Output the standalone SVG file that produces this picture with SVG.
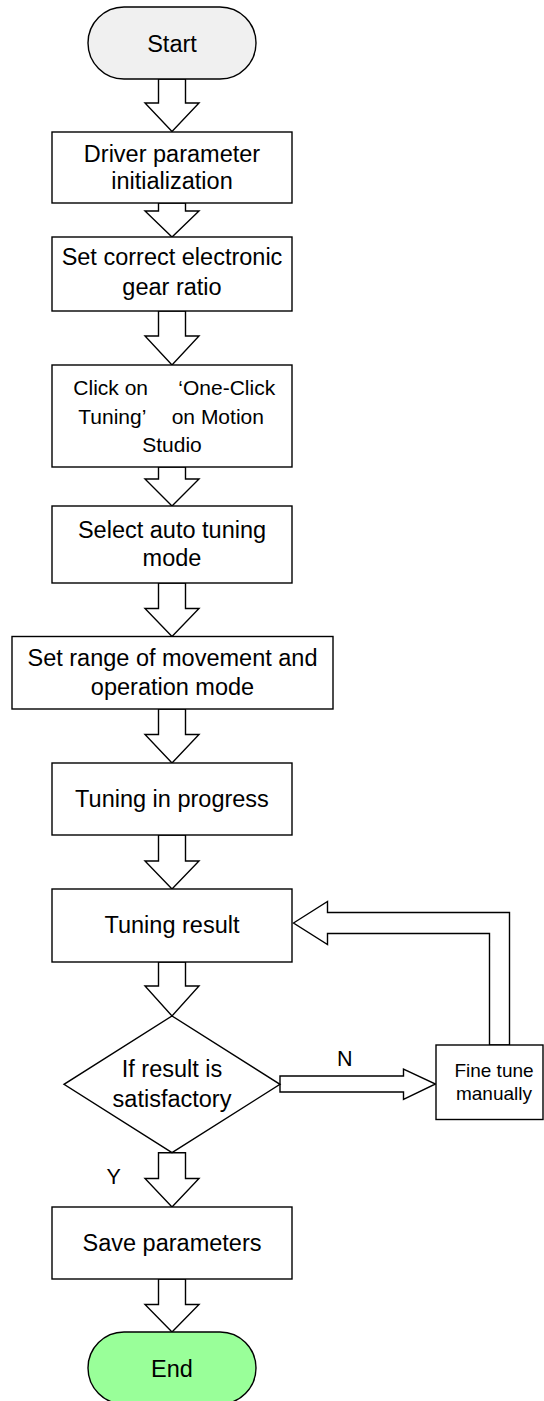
<svg xmlns="http://www.w3.org/2000/svg" width="544" height="1401" viewBox="0 0 544 1401">
<style>
.box{fill:#fff;stroke:#000;stroke-width:1.4}
.arr{fill:#fff;stroke:#000;stroke-width:1.4;stroke-linejoin:miter}
text{font-family:"Liberation Sans",Arial,sans-serif;font-size:23.5px;fill:#000}
.c{text-anchor:middle}
.sm{font-size:21px}
.xs{font-size:19px}
.lbl{font-size:21.5px}
</style>
<rect width="544" height="1401" fill="#fff"/>
<g id="connectors">
<polygon class="arr" points="158.5,79 185.5,79 185.5,103 199,103 172,131.5 145,103 158.5,103"/>
<polygon class="arr" points="158.5,203 185.5,203 185.5,211 199,211 172,237 145,211 158.5,211"/>
<polygon class="arr" points="158.5,311 185.5,311 185.5,336 199,336 172,365 145,336 158.5,336"/>
<polygon class="arr" points="158.5,467 185.5,467 185.5,479 199,479 172,506 145,479 158.5,479"/>
<polygon class="arr" points="158.5,583 185.5,583 185.5,608.5 199,608.5 172,636.5 145,608.5 158.5,608.5"/>
<polygon class="arr" points="158.5,709 185.5,709 185.5,734.5 199,734.5 172,763 145,734.5 158.5,734.5"/>
<polygon class="arr" points="158.5,835 185.5,835 185.5,861 199,861 172,889 145,861 158.5,861"/>
<polygon class="arr" points="158.5,962 185.5,962 185.5,986 199,986 172,1016 145,986 158.5,986"/>
<polygon class="arr" points="158.5,1152.7 185.5,1152.7 185.5,1178.5 199,1178.5 172,1207 145,1178.5 158.5,1178.5"/>
<polygon class="arr" points="158.5,1279 185.5,1279 185.5,1304.5 199,1304.5 172,1332 145,1304.5 158.5,1304.5"/>
<polygon class="arr" points="280,1076 403.5,1076 403.5,1069 435.5,1084 403.5,1099.5 403.5,1092 280,1092"/>
<polygon class="arr" points="293.5,923 327.5,901.5 327.5,912.5 509.5,912.5 509.5,1045 489.5,1045 489.5,933.5 327.5,933.5 327.5,944.5"/>
<text class="lbl" x="337" y="1066">N</text>
<text class="lbl" x="106.5" y="1184">Y</text>
</g>
<g id="start">
<rect x="88" y="7" width="168" height="72" rx="36" ry="36" fill="#f0f0f0" stroke="#000" stroke-width="1.4"/>
<text class="c" x="172" y="51.5">Start</text>
</g>
<g id="init">
<rect class="box" x="52" y="132" width="240" height="71"/>
<text class="c" x="172" y="161.7">Driver parameter</text>
<text class="c" x="172" y="189.3">initialization</text>
</g>
<g id="gear">
<rect class="box" x="52" y="237" width="240" height="74"/>
<text class="c" x="172" y="265">Set correct electronic</text>
<text class="c" x="172" y="295">gear ratio</text>
</g>
<g id="click">
<rect class="box" x="52" y="365" width="240" height="102"/>
<text class="sm" y="395"><tspan x="73.3">Click on</tspan><tspan x="178.3">‘One-Click</tspan></text>
<text class="sm" y="424"><tspan x="78.3">Tuning’</tspan><tspan x="171.7">on Motion</tspan></text>
<text class="sm c" x="172" y="451.7">Studio</text>
</g>
<g id="select">
<rect class="box" x="52" y="506" width="240" height="77"/>
<text class="c" x="172" y="537.5">Select auto tuning</text>
<text class="c" x="172" y="566">mode</text>
</g>
<g id="range">
<rect class="box" x="12" y="636.5" width="321" height="72.5"/>
<text class="c" x="172.5" y="666">Set range of movement and</text>
<text class="c" x="172.5" y="695">operation mode</text>
</g>
<g id="progress">
<rect class="box" x="52" y="763" width="240" height="72"/>
<text class="c" x="172" y="806.7">Tuning in progress</text>
</g>
<g id="result">
<rect class="box" x="52" y="889" width="240" height="73"/>
<text class="c" x="172" y="932.7">Tuning result</text>
</g>
<g id="decision">
<polygon class="box" points="172,1016 280,1084.3 172,1152.7 64,1084.3"/>
<text class="c" x="172" y="1076.7">If result is</text>
<text class="c" x="172" y="1106.7">satisfactory</text>
</g>
<g id="finetune">
<rect class="box" x="436" y="1045" width="107" height="74.5"/>
<text class="xs c" x="494" y="1076.7">Fine tune</text>
<text class="xs c" x="494" y="1100">manually</text>
</g>
<g id="save">
<rect class="box" x="52" y="1207" width="240" height="72"/>
<text class="c" x="172" y="1250.7">Save parameters</text>
</g>
<g id="end">
<rect x="88" y="1332" width="168" height="72" rx="36" ry="36" fill="#99ff99" stroke="#000" stroke-width="1.4"/>
<text class="c" x="172" y="1376.7">End</text>
</g>
</svg>
